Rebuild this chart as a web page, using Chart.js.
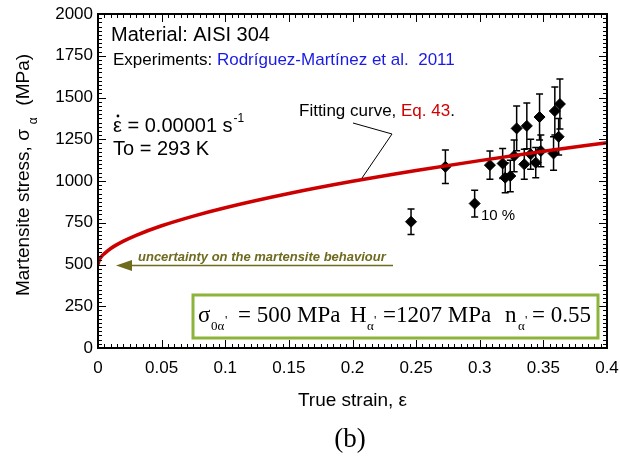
<!DOCTYPE html>
<html>
<head>
<meta charset="utf-8">
<script src="https://cdn.jsdelivr.net/npm/chart.js@4/dist/chart.umd.min.js"></script>
<style>
  html, body { margin: 0; padding: 0; background: #fff; }
  #wrap { width: 620px; height: 457px; }
</style>
</head>
<body>
<div id="wrap"><canvas id="chart" width="620" height="457"></canvas></div>
<script>
// fitting curve
const curveStrain = [0, 0.001, 0.0025, 0.005, 0.01, 0.02, 0.03, 0.05, 0.075, 0.1, 0.15, 0.2, 0.25, 0.3, 0.35, 0.4];
const curveStress = [500, 527, 545, 565, 596, 640, 675, 732, 790, 840, 925, 998, 1063, 1122, 1178, 1229];

// experimental points (Rodriguez-Martinez et al. 2011)
const expStrain = [0.246, 0.273, 0.296, 0.308, 0.318, 0.320, 0.324, 0.327, 0.329, 0.335, 0.337, 0.340, 0.344, 0.347, 0.348, 0.358, 0.359, 0.362, 0.363];
const expStress = [756, 1085, 865, 1095, 1105, 1020, 1030, 1150, 1315, 1100, 1330, 1160, 1110, 1383, 1180, 1165, 1419, 1265, 1461];
const expError  = [77, 100, 80, 85, 90, 90, 95, 95, 134, 90, 137, 90, 90, 138, 95, 100, 144, 110, 150];

const xTickLabels = ["0", "0.05", "0.1", "0.15", "0.2", "0.25", "0.3", "0.35", "0.4"];
const yTickLabels = ["0", "250", "500", "750", "1000", "1250", "1500", "1750", "2000"];

const SANS = 'Arial, "Liberation Sans", sans-serif';
const SERIF = '"Times New Roman", "Liberation Serif", serif';
const OLIVE = "#6e6a1e";

function txt(ctx, s, x, y, font, color, align, base) {
  ctx.font = font;
  ctx.fillStyle = color || "#000";
  ctx.textAlign = align || "left";
  ctx.textBaseline = base || "alphabetic";
  ctx.fillText(s, x, y);
  return ctx.measureText(s).width;
}

// error bars behind the diamonds
const errorBars = {
  id: "errorBars",
  beforeDatasetsDraw(chart) {
    const ctx = chart.ctx, xs = chart.scales.x, ys = chart.scales.y;
    ctx.save();
    ctx.strokeStyle = "#000";
    ctx.lineWidth = 1.5;
    for (let i = 0; i < expStrain.length; i++) {
      const px = xs.getPixelForValue(expStrain[i]);
      const top = ys.getPixelForValue(expStress[i] + expError[i]);
      const bot = ys.getPixelForValue(expStress[i] - expError[i]);
      ctx.beginPath();
      ctx.moveTo(px, top); ctx.lineTo(px, bot);
      ctx.moveTo(px - 3.5, top); ctx.lineTo(px + 3.5, top);
      ctx.moveTo(px - 3.5, bot); ctx.lineTo(px + 3.5, bot);
      ctx.stroke();
    }
    ctx.restore();
  }
};

// frame, inward ticks and all the notes
const decorations = {
  id: "decorations",
  afterDraw(chart) {
    const ctx = chart.ctx, a = chart.chartArea, xs = chart.scales.x, ys = chart.scales.y;
    ctx.save();

    // ticks on all four sides
    ctx.strokeStyle = "#000";
    ctx.lineWidth = 1;
    ctx.beginPath();
    for (let k = 0; k <= 80; k++) {
      const px = Math.round(xs.getPixelForValue(k * 0.005)) + 0.5;
      const len = k % 10 === 0 ? 8 : 4;
      ctx.moveTo(px, a.bottom); ctx.lineTo(px, a.bottom - len);
      ctx.moveTo(px, a.top); ctx.lineTo(px, a.top + len);
    }
    for (let k = 0; k <= 80; k++) {
      const py = Math.round(ys.getPixelForValue(k * 25)) + 0.5;
      const len = k % 10 === 0 ? 8 : 4;
      ctx.moveTo(a.left, py); ctx.lineTo(a.left + len, py);
      ctx.moveTo(a.right, py); ctx.lineTo(a.right - len, py);
    }
    ctx.stroke();
    ctx.lineWidth = 2;
    ctx.strokeRect(a.left, a.top, a.right - a.left, a.bottom - a.top);

    // headers
    txt(ctx, "Material: AISI 304", 111, 41, "20px " + SANS);
    let w = txt(ctx, "Experiments: ", 113, 65, "17px " + SANS);
    txt(ctx, "Rodríguez-Martínez et al.  2011", 113 + w, 65, "17px " + SANS, "#1a1ae6");

    w = txt(ctx, "ε", 113, 132, "20px " + SANS);
    ctx.fillStyle = "#000";
    ctx.beginPath();
    ctx.arc(113 + w / 2 + 0.5, 116, 1.4, 0, Math.PI * 2);
    ctx.fill();
    w += txt(ctx, " = 0.00001 s", 113 + w, 132, "20px " + SANS);
    txt(ctx, "-1", 113 + w + 1, 122, "12px " + SANS);
    txt(ctx, "To = 293 K", 113, 155, "20px " + SANS);

    // fitting curve label with leader line
    w = txt(ctx, "Fitting curve, ", 299, 116, "17px " + SANS);
    let w2 = txt(ctx, "Eq. 43", 299 + w, 116, "17px " + SANS, "#d00000");
    txt(ctx, ".", 299 + w + w2, 116, "17px " + SANS);
    ctx.strokeStyle = "#000";
    ctx.lineWidth = 1;
    ctx.beginPath();
    ctx.moveTo(353, 123); ctx.lineTo(392, 134); ctx.lineTo(362, 178);
    ctx.stroke();

    txt(ctx, "10 %", 481, 220, "15px " + SANS);

    // uncertainty arrow
    const yArrow = ys.getPixelForValue(500) + 1;
    ctx.strokeStyle = OLIVE;
    ctx.fillStyle = OLIVE;
    ctx.lineWidth = 1.5;
    ctx.beginPath();
    ctx.moveTo(130, yArrow); ctx.lineTo(393, yArrow);
    ctx.stroke();
    ctx.beginPath();
    ctx.moveTo(116, yArrow); ctx.lineTo(132, yArrow - 5.5); ctx.lineTo(132, yArrow + 5.5);
    ctx.closePath();
    ctx.fill();
    txt(ctx, "uncertainty on the martensite behaviour", 138, 261, "italic bold 13px " + SANS, OLIVE);

    // parameter box
    ctx.fillStyle = "#fff";
    ctx.fillRect(193, 295, 405, 43);
    ctx.strokeStyle = "#8cb43a";
    ctx.lineWidth = 3;
    ctx.strokeRect(193, 295, 405, 43);
    const big = "23px " + SERIF, small = "13px " + SERIF, base = 322;
    txt(ctx, "σ", 198, base, big);
    txt(ctx, "0α", 211, base + 8, small);
    txt(ctx, "'", 225, base + 2, small);
    txt(ctx, "= 500 MPa", 238, base, big);
    txt(ctx, "H", 350, base, big);
    txt(ctx, "α", 367, base + 8, small);
    txt(ctx, "'", 374, base + 2, small);
    txt(ctx, "=1207 MPa", 383, base, big);
    txt(ctx, "n", 505, base, big);
    txt(ctx, "α", 518, base + 8, small);
    txt(ctx, "'", 525, base + 2, small);
    txt(ctx, "= 0.55", 532, base, big);

    // axis titles
    txt(ctx, "True strain, ε", (a.left + a.right) / 2, 406, "19px " + SANS, "#000", "center");
    txt(ctx, "(b)", 350, 447, "27px " + SERIF, "#000", "center");

    ctx.translate(29, 175);
    ctx.rotate(-Math.PI / 2);
    ctx.font = "19px " + SANS;
    const p1 = "Martensite stress, σ", p3 = "  (MPa)";
    const w1 = ctx.measureText(p1).width, w3 = ctx.measureText(p3).width;
    ctx.font = "12px " + SANS;
    const wa = ctx.measureText("α").width + 6;
    let x0 = -(w1 + wa + w3) / 2;
    txt(ctx, p1, x0, 0, "19px " + SANS);
    txt(ctx, "α", x0 + w1 + 5, 8, "12px " + SANS);
    txt(ctx, p3, x0 + w1 + wa, 0, "19px " + SANS);

    ctx.restore();
  }
};

new Chart(document.getElementById("chart"), {
  type: "scatter",
  data: {
    datasets: [
      {
        label: "Fitting curve",
        data: curveStrain.map((x, i) => ({ x: x, y: curveStress[i] })),
        showLine: true,
        borderColor: "#cc0000",
        borderWidth: 3.5,
        pointRadius: 0,
        cubicInterpolationMode: "monotone",
        fill: false
      },
      {
        label: "Experiments",
        data: expStrain.map((x, i) => ({ x: x, y: expStress[i] })),
        pointStyle: "rectRot",
        pointRadius: 5.5,
        backgroundColor: "#000",
        borderColor: "#000",
        borderWidth: 1
      }
    ]
  },
  options: {
    responsive: false,
    devicePixelRatio: 1,
    animation: false,
    layout: { padding: { top: 14, right: 13, left: 0, bottom: 0 } },
    plugins: { legend: { display: false }, tooltip: { enabled: false } },
    scales: {
      x: {
        type: "linear",
        min: 0, max: 0.4,
        grid: { display: false, drawTicks: false },
        border: { display: false },
        afterFit(s) { s.height = 109; s.paddingLeft = 0; s.paddingRight = 0; },
        ticks: {
          stepSize: 0.05,
          padding: 10,
          color: "#000",
          font: { family: SANS, size: 17 },
          maxRotation: 0,
          callback: (v, i) => xTickLabels[i]
        }
      },
      y: {
        type: "linear",
        min: 0, max: 2000,
        grid: { display: false, drawTicks: false },
        border: { display: false },
        afterFit(s) { s.width = 98; s.paddingTop = 0; s.paddingBottom = 0; },
        ticks: {
          stepSize: 250,
          padding: 5,
          color: "#000",
          font: { family: SANS, size: 17 },
          callback: (v, i) => yTickLabels[i]
        }
      }
    }
  },
  plugins: [errorBars, decorations]
});
</script>
</body>
</html>
